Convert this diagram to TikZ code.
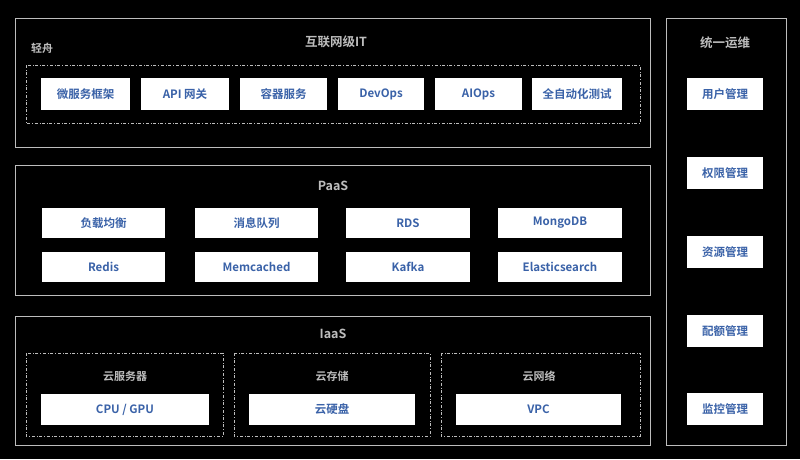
\documentclass[tikz,border=0pt]{standalone}
\usepackage{fontspec}
\setmainfont{Noto Sans CJK SC}[BoldFont={* Bold}]
\definecolor{txtblue}{HTML}{3A62A8}
\definecolor{linegray}{HTML}{BDBDBD}
\tikzset{
  frame/.style={draw=linegray, line width=0.8pt},
  dashframe/.style={draw=linegray, dash dot, line width=0.7pt},
  item/.style={fill=white, text=txtblue, font=\bfseries\fontsize{11.5}{13}\selectfont, inner sep=0pt},
  title/.style={text=linegray, font=\bfseries\fontsize{12.5}{14}\selectfont},
  sub/.style={text=linegray, font=\bfseries\fontsize{11}{13}\selectfont}
}
\newcommand{\itembox}[5]{\node[item, minimum width={(#3)-(#1)}, minimum height={(#4)-(#2)}] (#5) at ({((#1)+(#3))/2},{((#2)+(#4))/2})}
\begin{document}
\begin{tikzpicture}[x=1pt, y=-1pt]
    % background
    \fill[black] (0,0) rectangle (800,459);
    \useasboundingbox (0,0) rectangle (800,459);

    % outer frames
    \draw[frame] (15,18) rectangle (650,147);
    \draw[frame] (15,165) rectangle (650,295);
    \draw[frame] (15,316) rectangle (650,445);
    \draw[frame] (666,18) rectangle (786,445);

    % internet IT
    \node[title] (it) at (336,42) {互联网级IT};
    \node[sub] (qz) at (42,48) {轻舟};
    \draw[dashframe] (26,65) rectangle (640,123);
    \itembox{41}{78}{130}{110}{wf} {微服务框架};
    \itembox{141}{78}{229}{110}{api} {API 网关};
    \itembox{240}{78}{327}{110}{rq} {容器服务};
    \itembox{338}{78}{424}{110}{dev} {DevOps};
    \itembox{435}{78}{522}{110}{ai} {AIOps};
    \itembox{532}{78}{622}{110}{auto} {全自动化测试};

    % PaaS
    \node[title] (paas) at (333,186) {PaaS};
    \itembox{42}{208}{165}{238}{lb} {负载均衡};
    \itembox{195}{208}{318}{238}{mq} {消息队列};
    \itembox{346}{208}{470}{238}{rds} {RDS};
    \itembox{498}{208}{622}{238}{mongo} {MongoDB};
    \itembox{42}{252}{165}{282}{redis} {Redis};
    \itembox{195}{252}{318}{282}{memc} {Memcached};
    \itembox{346}{252}{470}{282}{kafka} {Kafka};
    \itembox{498}{252}{622}{282}{es} {Elasticsearch};

    % IaaS
    \node[title] (iaas) at (333,334) {IaaS};
    \draw[dashframe] (26,353) rectangle (223,436);
    \draw[dashframe] (234,353) rectangle (430,436);
    \draw[dashframe] (441,353) rectangle (640,436);
    \node[sub] (ecs) at (125,376) {云服务器};
    \node[sub] (store) at (332,376) {云存储};
    \node[sub] (net) at (539,376) {云网络};
    \itembox{41}{394}{209}{425}{cpu} {CPU / GPU};
    \itembox{249}{394}{415}{425}{disk} {云硬盘};
    \itembox{456}{394}{621}{425}{vpc} {VPC};

    % ops column
    \node[title] (ops) at (725,43) {统一运维};
    \foreach \y/\t in {94/用户管理, 173/权限管理, 252/资源管理, 331/配额管理, 409/监控管理}
        \itembox{687}{\y-16}{763}{\y+16}{op\y} {\t};
\end{tikzpicture}
\end{document}
